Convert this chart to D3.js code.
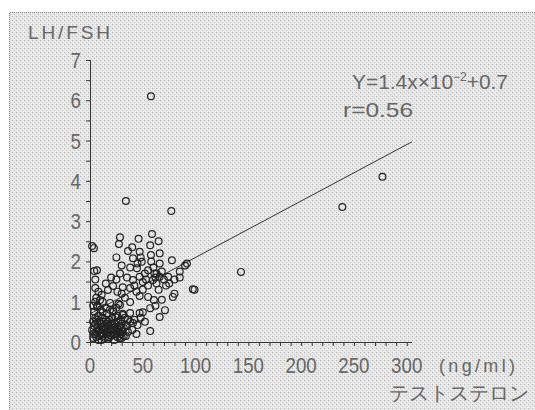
<!DOCTYPE html>
<html><head><meta charset="utf-8">
<script src="https://cdn.jsdelivr.net/npm/d3@7"></script>
<style>
html,body{margin:0;padding:0;background:#fff;}
svg{display:block;}
text{font-family:"Liberation Sans","DejaVu Sans",sans-serif;fill:#666;}
</style></head>
<body>
<script>
// ---- data ----
const testosterone = [
 // outliers
 57.7,34,77,277,239,143,99,2,4,5,5,6,8,3,
 // middle cluster
 28.4,27.4,46,58.7,65,3.7,36,47,57.7,66,40.7,49,66,77.6,91.8,6.6,28.4,44.5,55,63,74,40.7,47,50,59.6,66,97.4,78.5,21.8,31,38,30,11,17,47,55,60.5,71,66,50,47,57,38,28.4,19,9.5,6.6,12,22,31,38,40.7,
 52,60,62,45,35,25,42,55,63,68,70,58,48,38,30,20,15,26,33,44,50,65,72,80,85,53,61,57,25,40,
 85,90,75,80,68,62,
 // lower dense cluster
 3,5,7,9,10,12,14,15,17,18,20,21,22,24,25,27,28,30,31,33,34,4,6,8,11,13,16,19,23,26,29,32,35,2,5,9,12,14,18,20,23,26,30,36,38,8,16,22,28,11,40,42,44,3,6,24,17,31,10,4,7,15,19,25,12,5,27,57,45,48,52,
 6,8,10,12,14,16,18,20,22,24,26,28,30,7,9,11,13,15,17,19,21,23,25,27,29,32,5,3,34,36
];
const lhFshRatio = [
 6.1,3.5,3.25,4.1,3.35,1.74,1.3,2.38,1.76,1.55,1.34,1.1,1.25,0.9,
 2.6,2.43,2.56,2.68,2.5,2.33,2.26,2.24,2.16,2.2,2.08,1.99,1.95,2.03,1.95,1.78,1.7,1.83,1.78,1.7,1.62,1.54,1.62,1.49,1.54,1.62,1.31,1.12,1.39,1.36,1.34,1.2,1.17,1.29,1.14,1.12,1.04,0.79,0.62,0.74,0.72,0.84,0.99,0.92,0.97,1.04,0.87,0.74,0.79,0.67,0.72,0.47,
 1.7,1.85,1.6,1.95,1.6,1.55,1.4,1.4,1.45,1.75,1.55,2.0,2.1,1.85,1.9,1.6,1.45,1.25,1.1,1.25,1.3,1.3,1.4,1.55,1.75,1.55,1.7,2.4,2.1,2.35,
 1.6,1.9,1.45,1.2,1.05,0.9,
 0.1,0.2,0.35,0.15,0.45,0.3,0.1,0.55,0.25,0.4,0.15,0.6,0.35,0.2,0.5,0.3,0.1,0.45,0.25,0.6,0.15,0.4,0.55,0.65,0.05,0.5,0.7,0.3,0.05,0.65,0.55,0.35,0.4,0.3,0.6,0.3,0.6,0.4,0.55,0.45,0.45,0.2,0.1,0.25,0.5,0.05,0.2,0.75,0.4,0.2,0.3,0.55,0.2,0.5,0.25,0.62,0.08,0.7,0.8,0.75,0.9,0.85,0.8,0.85,1.0,1.0,0.95,0.27,0.42,0.6,0.5,
 0.12,0.28,0.22,0.15,0.33,0.45,0.12,0.3,0.22,0.38,0.12,0.25,0.35,0.48,0.52,0.38,0.2,0.3,0.5,0.18,0.42,0.3,0.28,0.5,0.2,0.15,0.45,0.2,0.42,0.55
];
const regSlope = 0.014, regIntercept = 0.7;
const xTickLabels = [0,50,100,150,200,250,300];
const yTickLabels = [0,1,2,3,4,5,6,7];

// ---- drawing ----
const W = 535, H = 410;
const svg = d3.select("body").append("svg").attr("width", W).attr("height", H);

// halftone-like background
const defs = svg.append("defs");
const pat = defs.append("pattern").attr("id","ht").attr("width",4).attr("height",4).attr("patternUnits","userSpaceOnUse");
pat.append("rect").attr("width",4).attr("height",4).attr("fill","#e6e6e6");
pat.append("rect").attr("x",0).attr("y",0).attr("width",1).attr("height",1).attr("fill","#b4b4b4");
pat.append("rect").attr("x",2).attr("y",2).attr("width",1).attr("height",1).attr("fill","#c4c4c4");
pat.append("rect").attr("x",3).attr("y",1).attr("width",1).attr("height",1).attr("fill","#f6f6f6");
pat.append("rect").attr("x",1).attr("y",3).attr("width",1).attr("height",1).attr("fill","#f6f6f6");
svg.append("rect").attr("x",9).attr("y",12).attr("width",W-9).attr("height",H-12).attr("fill","url(#ht)");
svg.append("path").attr("d",`M9.5,${H}V12.5H${W}`).attr("fill","none").attr("stroke","#888").attr("stroke-dasharray","1,1");

const x = d3.scaleLinear().domain([0,305]).range([90,412]);
const y = d3.scaleLinear().domain([0,7]).range([342,60]);

// axes
const xAxis = d3.axisBottom(x).tickValues(d3.range(0,301,10)).tickSize(4).tickFormat("");
const gx = svg.append("g").attr("transform","translate(0,342)").call(xAxis);
const yAxis = d3.axisLeft(y).tickValues(d3.range(0,7.01,0.5)).tickSize(4).tickFormat("");
const gy = svg.append("g").attr("transform","translate(90,0)").call(yAxis);
[gx,gy].forEach(g=>{
  g.selectAll("path,line").attr("stroke","#333").attr("stroke-width",1);
  g.select(".domain").attr("d", null);
});
svg.append("line").attr("x1",90).attr("x2",x(305)).attr("y1",342.5).attr("y2",342.5).attr("stroke","#333");
svg.append("line").attr("x1",90.5).attr("x2",90.5).attr("y1",y(0)).attr("y2",y(7)).attr("stroke","#333");

// tick labels (tall, narrow digits)
svg.append("g").selectAll("text").data(xTickLabels).join("text")
  .attr("transform", d=>`translate(${x(d)},373) scale(0.85,1)`).attr("text-anchor","middle")
  .attr("font-size",22).text(d=>d);
svg.append("g").selectAll("text").data(yTickLabels).join("text")
  .attr("transform", d=>`translate(81,${y(d)+8}) scale(0.85,1)`).attr("text-anchor","end")
  .attr("font-size",22).text(d=>d);

// titles
svg.append("text").attr("x",28).attr("y",39).attr("font-size",19)
  .attr("textLength",82).attr("lengthAdjust","spacing").text("LH/FSH");
svg.append("text").attr("x",439).attr("y",372).attr("font-size",18)
  .attr("textLength",76).attr("lengthAdjust","spacing").text("(ng/ml)");
svg.append("text").attr("x",389).attr("y",400).attr("font-size",20)
  .attr("font-family","'Noto Sans CJK JP',sans-serif").text("テストステロン");

// regression line
svg.append("line")
  .attr("x1",x(0)).attr("y1",y(regIntercept))
  .attr("x2",x(305)).attr("y2",y(regIntercept+regSlope*305))
  .attr("stroke","#333").attr("stroke-width",1);

// equation
const eq = svg.append("text").attr("x",352).attr("y",89).attr("font-size",21)
  .attr("textLength",156).attr("lengthAdjust","spacingAndGlyphs");
eq.append("tspan").text("Y=1.4x×10");
eq.append("tspan").attr("dy",-8).attr("font-size",12).text("−2");
eq.append("tspan").attr("dy",8).text("+0.7");
svg.append("text").attr("x",343).attr("y",117).attr("font-size",21)
  .attr("textLength",70).attr("lengthAdjust","spacingAndGlyphs").text("r=0.56");

// points
const pts = testosterone.map((t,i)=>({t, r: lhFshRatio[i]}));
svg.append("g").selectAll("circle").data(pts).join("circle")
  .attr("cx",d=>x(d.t)).attr("cy",d=>y(d.r)).attr("r",3.4)
  .attr("fill","none").attr("stroke","#222").attr("stroke-width",1.2);
</script>
</body></html>
